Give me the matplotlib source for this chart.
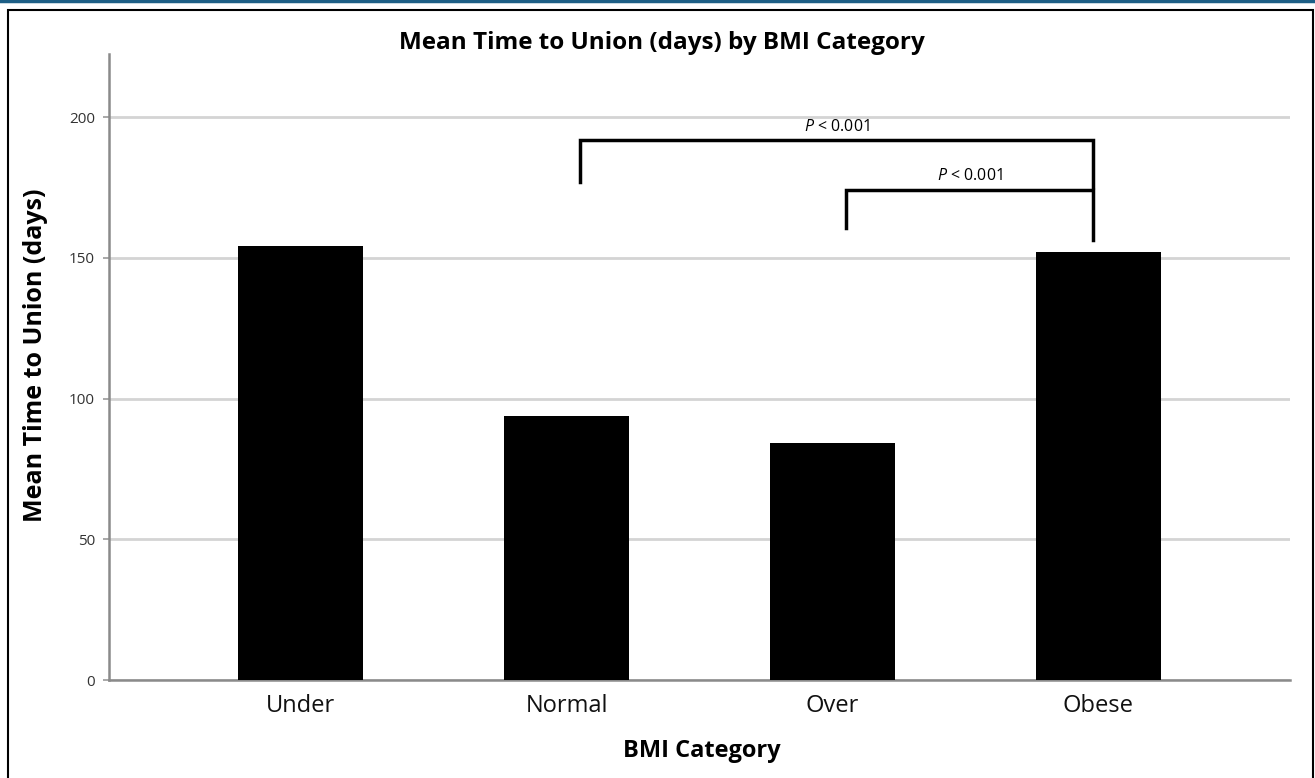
import matplotlib
matplotlib.use("Agg")
import matplotlib.pyplot as plt
from matplotlib.patches import Rectangle
from matplotlib.lines import Line2D

categories = ["Under", "Normal", "Over", "Obese"]
mean_days = [154.2, 93.8, 84.2, 152.0]
y_ticks = [0, 50, 100, 150, 200]

# significance brackets: (left category, right category, bar top, left drop, right drop, label)
brackets = [
    (1, 3, 191.8, 176.9, 175.1, r"$\it{P}$ < 0.001"),
    (2, 3, 174.1, 160.6, 156.3, r"$\it{P}$ < 0.001"),
]

plt.rcParams['font.family'] = ['Open Sans', 'DejaVu Sans']
plt.rcParams['mathtext.fontset'] = 'custom'
plt.rcParams['mathtext.it'] = 'Open Sans:italic'

fig = plt.figure(figsize=(13.15, 7.78), dpi=100)
ax = fig.add_axes([109/1315, 1-680/778, (1290-109)/1315, (680-54)/778])

x = list(range(len(categories)))
ax.bar(x, mean_days, width=0.47, color="black", zorder=3)

ax.set_xlim(-0.72, 3.72)
ax.set_ylim(0, 222.4)
ax.set_yticks(y_ticks)
ax.set_yticklabels([str(t) for t in y_ticks], fontsize=11, color="#333333")
ax.set_xticks(x)
ax.set_xticklabels(categories, fontsize=17, color="#111111")
ax.tick_params(axis="x", length=0, pad=10)
ax.tick_params(axis="y", length=4, color="#999999", width=1.2, pad=6)
ax.grid(axis="y", color="#d4d4d4", linewidth=2, zorder=0)
for s in ["top", "right"]:
    ax.spines[s].set_visible(False)
for s in ["left", "bottom"]:
    ax.spines[s].set_color("#8a8a8a")
    ax.spines[s].set_linewidth(1.8)

fig.text(662/1315, 1-43/778, "Mean Time to Union (days) by BMI Category", fontsize=17.5,
         fontweight="bold", ha="center", va="center")
fig.text(702/1315, 1-751/778, "BMI Category", fontsize=17, fontweight="bold",
         ha="center", va="center")
fig.text(36/1315, 1-355/778, "Mean Time to Union (days)", fontsize=18, fontweight="bold",
         ha="center", va="center", rotation=90)

for (l, r, top, dl, dr, lab) in brackets:
    xl = l + 0.05
    xr = r - 0.02
    ax.plot([xl, xl, xr, xr], [dl, top, top, dr], color="black", lw=2.5, zorder=4,
            solid_joinstyle="miter")
    ax.text((xl + xr) / 2, top + 2, lab, ha="center", va="bottom", fontsize=11.5,
            color="black")

# figure frame
fig.add_artist(Line2D([0, 1], [1-1/778, 1-1/778], color="#1d5f86", lw=2.5, transform=fig.transFigure))
fig.add_artist(Rectangle((8/1315, -0.01), (1313-8)/1315, 1.01-10/778, fill=False,
                         edgecolor="black", lw=1.5, transform=fig.transFigure))

fig.savefig("out.png", dpi=100)
